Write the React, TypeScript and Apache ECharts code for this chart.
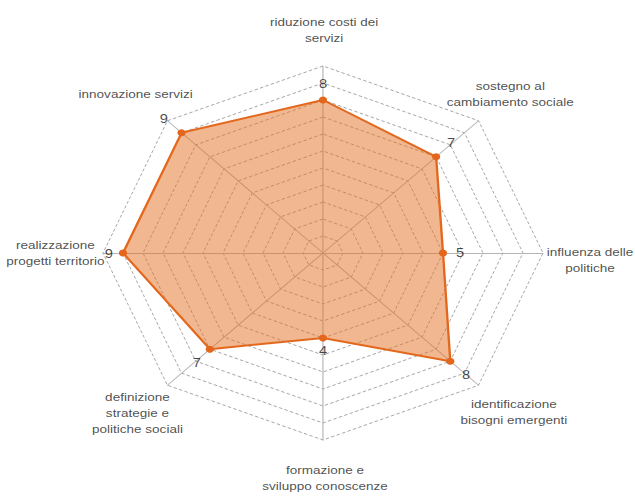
import React, { useEffect, useRef } from "react";
import * as echarts from "echarts";

// Indicators, counter-clockwise from the top
const indicatorNames = [
  "riduzione costi dei\nservizi",
  "innovazione servizi",
  "realizzazione\nprogetti territorio",
  "definizione\nstrategie e\npolitiche sociali",
  "formazione e\nsviluppo conoscenze",
  "identificazione\nbisogni emergenti",
  "influenza delle\npolitiche",
  "sostegno al\ncambiamento sociale",
];
const scores = [8, 9, 9, 7, 4, 8, 5, 7];
const AXIS_MIN = -1;
const AXIS_MAX = 10;

// styling / layout helpers
const SX = 220 / 187; // horizontal stretch of the reference picture
const valueLabelOffsets = [
  [0, -16], [-15, -14], [-12, 1], [-11, 14], [0, 13], [13.5, 14], [14.5, 0], [12.8, -14],
];
const nameLabelOffsets = [
  [1, -35.5], [-27, -26], [-40.5, 0], [-25.5, 28], [1.7, 38.5], [30, 27], [40, 7], [27, -26],
];

const CX = 323 / SX;
const CY = 253;
const R = 187;

export default function App() {
  const ref = useRef<HTMLDivElement>(null);
  useEffect(() => {
    if (!ref.current) return;
    const chart = echarts.init(ref.current, null, { renderer: "svg" });
    const orange = "#E3661C";
    chart.setOption({
      animation: false,
      radar: {
        center: [CX, CY],
        radius: R,
        startAngle: 90,
        shape: "polygon",
        splitNumber: AXIS_MAX - AXIS_MIN,
        indicator: indicatorNames.map((n) => ({ name: n, min: AXIS_MIN, max: AXIS_MAX })),
        axisName: { show: false },
        splitArea: { show: false },
        splitLine: { lineStyle: { color: "#9a9a9a", type: [3, 2], width: 0.8 } },
        axisLine: { lineStyle: { color: "#b5b5b5", width: 1 } },
        axisTick: { show: false },
        axisLabel: { show: false },
      },
      polar: { center: [CX, CY], radius: R },
      angleAxis: {
        type: "category",
        data: indicatorNames,
        startAngle: 90,
        clockwise: false,
        boundaryGap: false,
        show: false,
      },
      radiusAxis: { min: AXIS_MIN, max: AXIS_MAX, show: false },
      series: [
        {
          type: "radar",
          symbol: "circle",
          symbolSize: 7,
          lineStyle: { color: orange, width: 2 },
          itemStyle: { color: orange },
          areaStyle: { color: "#E36F22", opacity: 0.5 },
          data: [{ value: scores }],
        },
        {
          type: "scatter",
          coordinateSystem: "polar",
          symbolSize: 0,
          silent: true,
          z: 5,
          data: scores.map((v, i) => ({
            value: [v, i],
            label: { offset: valueLabelOffsets[i] },
          })),
          label: {
            show: true,
            position: "inside",
            formatter: (p: any) => String(p.value[0]),
            fontSize: 12.5,
            color: "#1a1a1a",
            fontFamily: "Liberation Sans, Arial, sans-serif",
          },
        },
        {
          type: "scatter",
          coordinateSystem: "polar",
          symbolSize: 0,
          silent: true,
          z: 5,
          data: indicatorNames.map((n, i) => ({
            value: [AXIS_MAX, i],
            name: n,
            label: { offset: nameLabelOffsets[i] },
          })),
          label: {
            show: true,
            position: "inside",
            formatter: (p: any) => p.name,
            fontSize: 11.5,
            lineHeight: 16,
            align: "center",
            verticalAlign: "middle",
            color: "#222",
            fontFamily: "Liberation Sans, Arial, sans-serif",
          },
        },
      ],
    });
    return () => chart.dispose();
  }, []);

  return (
    <div
      style={{
        position: "absolute",
        left: 0,
        top: 0,
        width: 635,
        height: 498,
        overflow: "hidden",
        background: "#fff",
      }}
    >
      <div
        ref={ref}
        style={{
          width: 635 / SX,
          height: 498,
          transform: `scaleX(${SX})`,
          transformOrigin: "0 0",
        }}
      />
    </div>
  );
}
